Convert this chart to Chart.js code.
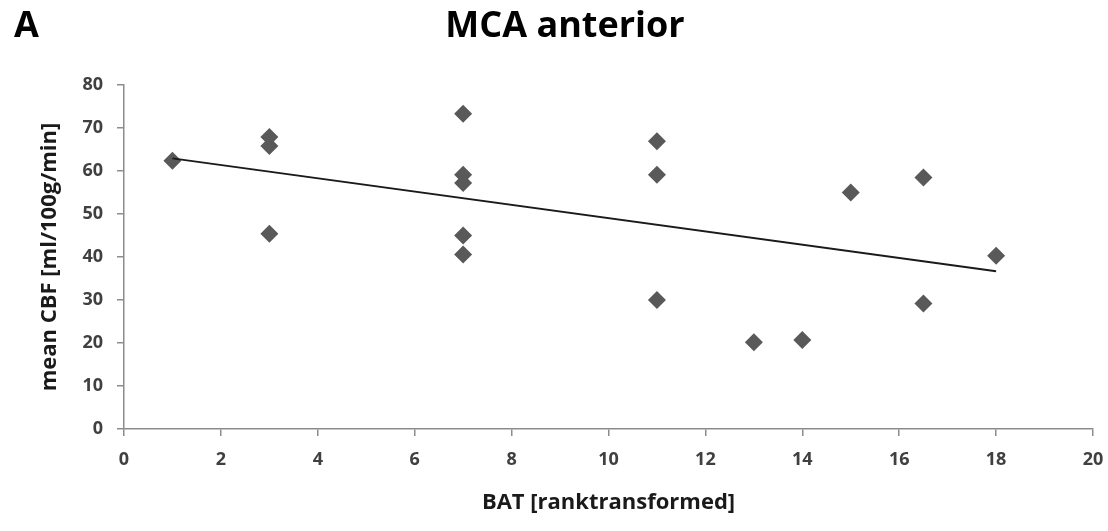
<!DOCTYPE html>
<html>
<head>
<meta charset="utf-8">
<script src="https://cdn.jsdelivr.net/npm/chart.js@4"></script>
<style>
    html, body { margin: 0; padding: 0; background: #fff; }
    #wrap { width: 1108px; height: 531px; }
</style>
</head>
<body>
<div id="wrap"><canvas id="cbfChart" width="1108" height="531"></canvas></div>
<script>
// BAT rank vs. mean CBF per patient
const batRank = [1, 3, 3, 3, 7, 7, 7, 7, 7, 11, 11, 11, 13, 14, 15, 16.5, 16.5, 18];
const meanCbf = [62.4, 67.9, 65.8, 45.4, 73.3, 59.1, 57.2, 45.0, 40.6, 66.9, 59.1, 30.0, 20.2, 20.7, 55.0, 58.5, 29.2, 40.3];

const xTicks = [0, 2, 4, 6, 8, 10, 12, 14, 16, 18, 20];
const yTicks = [0, 10, 20, 30, 40, 50, 60, 70, 80];

const panelLetter = 'A';
const chartTitle = 'MCA anterior';
const xTitle = 'BAT [ranktransformed]';
const yTitle = 'mean CBF [ml/100g/min]';

// least squares fit for the trend line
function linearFit(xs, ys) {
    const n = xs.length;
    const mx = xs.reduce((a, b) => a + b, 0) / n;
    const my = ys.reduce((a, b) => a + b, 0) / n;
    let sxy = 0, sxx = 0;
    for (let i = 0; i < n; i++) {
        sxy += (xs[i] - mx) * (ys[i] - my);
        sxx += (xs[i] - mx) * (xs[i] - mx);
    }
    const slope = sxy / sxx;
    return { slope, intercept: my - slope * mx };
}

const fit = linearFit(batRank, meanCbf);
const xMin = Math.min(...batRank);
const xMax = Math.max(...batRank);
const trendPoints = [xMin, xMax].map(x => ({ x, y: fit.intercept + fit.slope * x }));
const scatterPoints = batRank.map((x, i) => ({ x, y: meanCbf[i] }));

const FONT = '"Open Sans", "DejaVu Sans", sans-serif';
const AXIS_GREY = '#8c8c8c';
const LABEL_COLOR = '#404040';
const TITLE_COLOR = '#1a1a1a';

// header text: panel letter and title
const headerPlugin = {
    id: 'header',
    afterDraw(chart) {
        const ctx = chart.ctx;
        ctx.save();
        ctx.fillStyle = '#000';
        ctx.textBaseline = 'middle';
        ctx.font = `bold 36px ${FONT}`;
        ctx.textAlign = 'left';
        ctx.fillText(panelLetter, 14, 27);
        ctx.textAlign = 'center';
        ctx.fillText(chartTitle, 565, 27);
        ctx.restore();
    }
};

new Chart(document.getElementById('cbfChart'), {
    type: 'scatter',
    data: {
        datasets: [
            {
                label: 'CBF',
                data: scatterPoints,
                pointStyle: 'rectRot',
                pointRadius: 9,
                pointHoverRadius: 9,
                backgroundColor: '#595959',
                borderColor: '#595959',
                borderWidth: 0,
                order: 2
            },
            {
                label: 'Linear fit',
                type: 'line',
                data: trendPoints,
                borderColor: '#1a1a1a',
                borderWidth: 2,
                pointRadius: 0,
                fill: false,
                order: 1
            }
        ]
    },
    options: {
        responsive: false,
        animation: false,
        layout: {
            padding: { top: 85, left: 30, right: 0, bottom: 0 }
        },
        plugins: {
            legend: { display: false },
            tooltip: { enabled: false },
            title: { display: false }
        },
        scales: {
            x: {
                type: 'linear',
                min: 0,
                max: 20,
                afterBuildTicks: axis => { axis.ticks = xTicks.map(v => ({ value: v })); },
                afterFit: axis => {
                    axis.height = 102;
                    // keep room on the right only for the last label
                    axis.paddingRight = 15;
                },
                border: { display: true, color: AXIS_GREY, width: 1.5 },
                grid: {
                    drawOnChartArea: false,
                    drawTicks: true,
                    tickLength: 7,
                    color: AXIS_GREY,
                    lineWidth: 1.5
                },
                ticks: {
                    padding: 13,
                    color: LABEL_COLOR,
                    font: { family: FONT, size: 18, weight: 'bold' },
                    maxRotation: 0
                },
                title: {
                    display: true,
                    text: xTitle,
                    color: TITLE_COLOR,
                    font: { family: FONT, size: 22, weight: 'bold' },
                    padding: { top: 0, bottom: 15 }
                }
            },
            y: {
                type: 'linear',
                min: 0,
                max: 80,
                afterBuildTicks: axis => { axis.ticks = yTicks.map(v => ({ value: v })); },
                afterFit: axis => { axis.width = 94; },
                border: { display: true, color: AXIS_GREY, width: 1.5 },
                grid: {
                    drawOnChartArea: false,
                    drawTicks: true,
                    tickLength: 7,
                    color: AXIS_GREY,
                    lineWidth: 1.5
                },
                ticks: {
                    padding: 14,
                    color: LABEL_COLOR,
                    font: { family: FONT, size: 18, weight: 'bold' }
                },
                title: {
                    display: true,
                    text: yTitle,
                    color: TITLE_COLOR,
                    font: { family: FONT, size: 22, weight: 'bold' },
                    padding: { top: 7, bottom: 0 }
                }
            }
        }
    },
    plugins: [headerPlugin]
});
</script>
</body>
</html>
